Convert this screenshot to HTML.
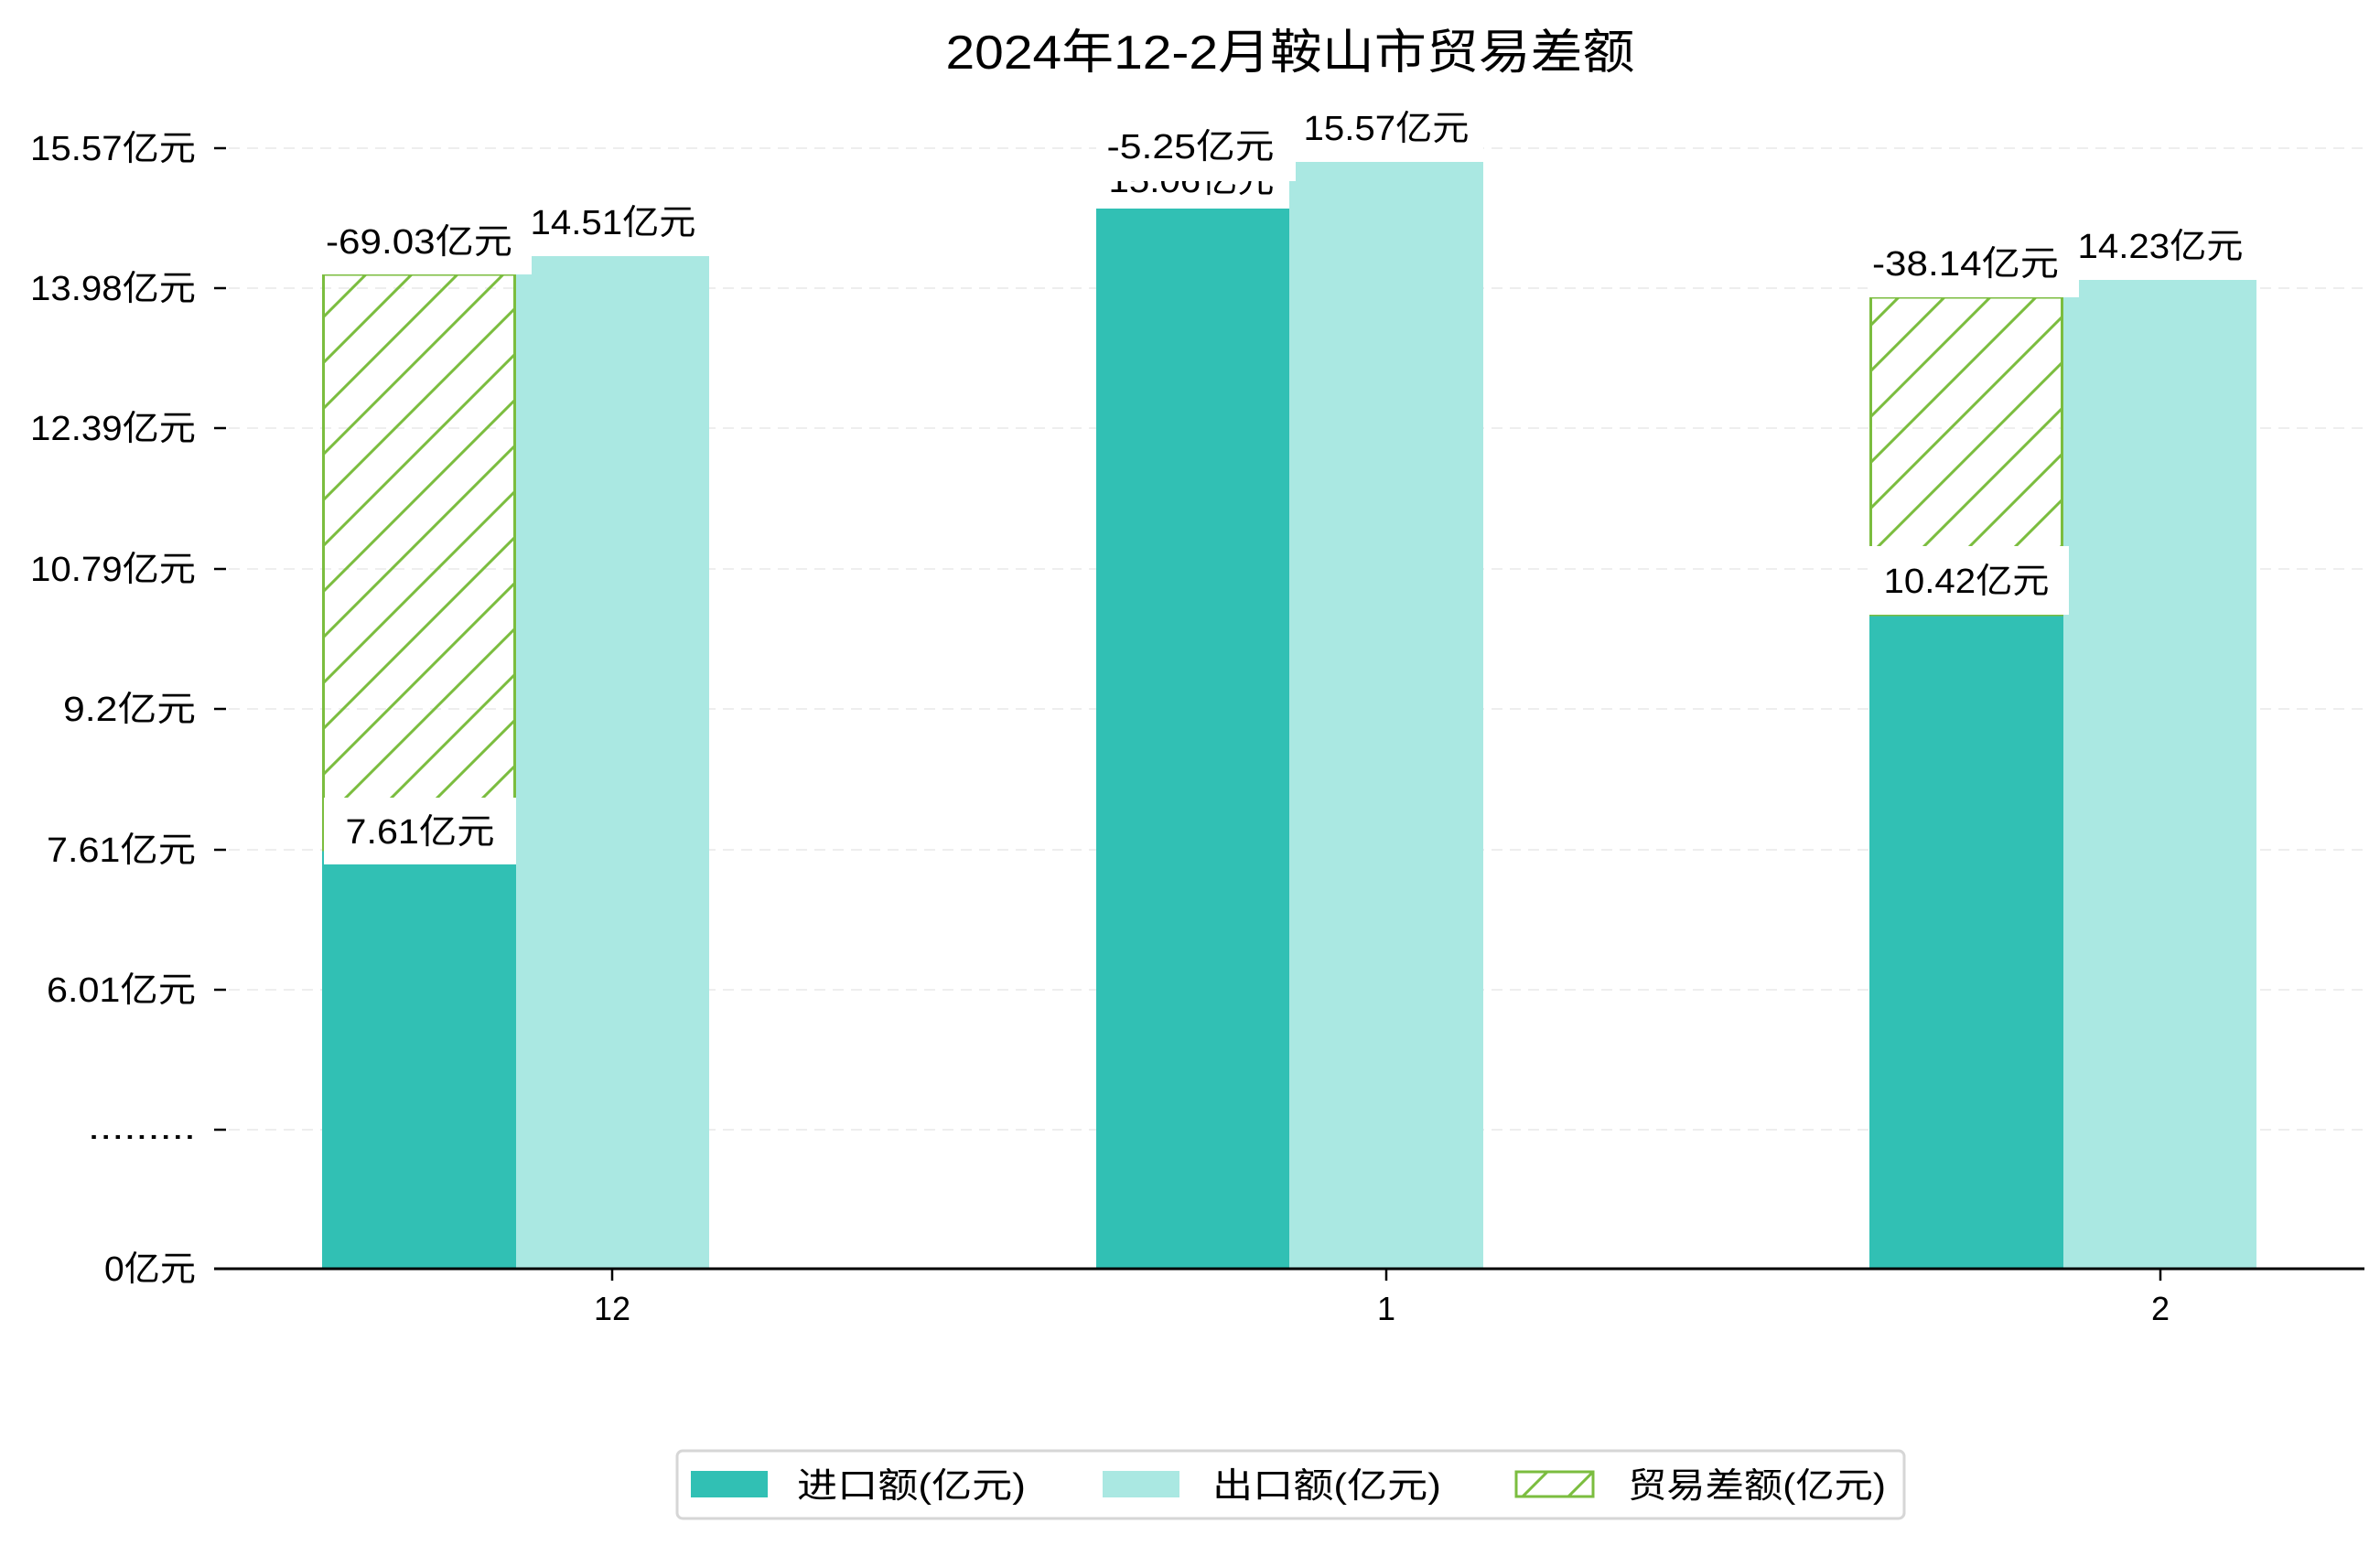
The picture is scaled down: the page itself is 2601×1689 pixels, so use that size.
<!DOCTYPE html>
<html><head><meta charset="utf-8"><style>
html,body{margin:0;padding:0;background:#fff;}
svg{display:block;}
text{font-family:"Liberation Sans","Noto Sans CJK SC",sans-serif;fill:#000;}
</style></head><body>
<svg width="2601" height="1689" viewBox="0 0 2601 1689" xmlns="http://www.w3.org/2000/svg">
<defs>
<pattern id="h" patternUnits="userSpaceOnUse" width="50" height="50">
<path d="M-5,5 L5,-5 M0,50 L50,0 M45,55 L55,45" stroke="#7bbd3f" stroke-width="3"/>
</pattern>
</defs>
<text x="1410" y="75" font-size="52" text-anchor="middle" textLength="753" lengthAdjust="spacingAndGlyphs">2024年12-2月鞍山市贸易差额</text>
<g stroke="#eeeeee" stroke-width="2" stroke-dasharray="12,8">
<line x1="250" x2="2584" y1="162" y2="162"/><line x1="250" x2="2584" y1="315" y2="315"/>
<line x1="250" x2="2584" y1="468" y2="468"/><line x1="250" x2="2584" y1="622" y2="622"/>
<line x1="250" x2="2584" y1="775" y2="775"/><line x1="250" x2="2584" y1="929" y2="929"/>
<line x1="250" x2="2584" y1="1082" y2="1082"/><line x1="250" x2="2584" y1="1235" y2="1235"/>
</g>
<g stroke="#000" stroke-width="2.5">
<line x1="234" x2="247" y1="162" y2="162"/><line x1="234" x2="247" y1="315" y2="315"/>
<line x1="234" x2="247" y1="468" y2="468"/><line x1="234" x2="247" y1="622" y2="622"/>
<line x1="234" x2="247" y1="775" y2="775"/><line x1="234" x2="247" y1="929" y2="929"/>
<line x1="234" x2="247" y1="1082" y2="1082"/><line x1="234" x2="247" y1="1235" y2="1235"/>
<line x1="234" x2="247" y1="1387" y2="1387"/>
</g>
<g font-size="38" text-anchor="end">
<text x="214" y="175" textLength="181" lengthAdjust="spacingAndGlyphs">15.57亿元</text>
<text x="214" y="328" textLength="181" lengthAdjust="spacingAndGlyphs">13.98亿元</text>
<text x="214" y="481" textLength="181" lengthAdjust="spacingAndGlyphs">12.39亿元</text>
<text x="214" y="635" textLength="181" lengthAdjust="spacingAndGlyphs">10.79亿元</text>
<text x="214" y="788" textLength="145" lengthAdjust="spacingAndGlyphs">9.2亿元</text>
<text x="214" y="942" textLength="163" lengthAdjust="spacingAndGlyphs">7.61亿元</text>
<text x="214" y="1095" textLength="163" lengthAdjust="spacingAndGlyphs">6.01亿元</text>
<text x="214" y="1245" textLength="118" lengthAdjust="spacingAndGlyphs">.........</text>
<text x="214" y="1400" textLength="100" lengthAdjust="spacingAndGlyphs">0亿元</text>
</g>
<rect x="352" y="929" width="212" height="458" fill="#31c0b4"/>
<rect x="564" y="280" width="211" height="1107" fill="#aae8e2"/>
<rect x="1198" y="228" width="211" height="1159" fill="#31c0b4"/>
<rect x="1409" y="177" width="212" height="1210" fill="#aae8e2"/>
<rect x="2043" y="672" width="212" height="715" fill="#31c0b4"/>
<rect x="2255" y="306" width="211" height="1081" fill="#aae8e2"/>
<rect x="353.5" y="300" width="209" height="629" fill="url(#h)" stroke="#7bbd3f" stroke-width="3"/>
<rect x="2044.5" y="325" width="209" height="347" fill="url(#h)" stroke="#7bbd3f" stroke-width="3"/>
<g font-size="38" text-anchor="middle">
<rect x="354" y="872" width="210" height="73" fill="#fff"/>
<text x="459" y="922" textLength="163" lengthAdjust="spacingAndGlyphs">7.61亿元</text>
<rect x="350" y="235" width="231" height="65" fill="#fff"/>
<text x="458" y="277" textLength="204" lengthAdjust="spacingAndGlyphs">-69.03亿元</text>
<rect x="570" y="215" width="205" height="62" fill="#fff"/>
<text x="670" y="256" textLength="181" lengthAdjust="spacingAndGlyphs">14.51亿元</text>
<rect x="1198" y="175" width="211" height="53" fill="#fff"/>
<text x="1302" y="210" textLength="181" lengthAdjust="spacingAndGlyphs">15.06亿元</text>
<rect x="1198" y="130" width="218" height="68" fill="#fff"/>
<text x="1301" y="173" textLength="183" lengthAdjust="spacingAndGlyphs">-5.25亿元</text>
<rect x="1415" y="112" width="206" height="60" fill="#fff"/>
<text x="1515" y="153" textLength="181" lengthAdjust="spacingAndGlyphs">15.57亿元</text>
<rect x="2041" y="597" width="220" height="75" fill="#fff"/>
<text x="2149" y="648" textLength="181" lengthAdjust="spacingAndGlyphs">10.42亿元</text>
<rect x="2041" y="260" width="231" height="65" fill="#fff"/>
<text x="2148" y="301" textLength="204" lengthAdjust="spacingAndGlyphs">-38.14亿元</text>
<rect x="2268" y="240" width="198" height="62" fill="#fff"/>
<text x="2361" y="282" textLength="181" lengthAdjust="spacingAndGlyphs">14.23亿元</text>
</g>
<line x1="234" x2="2584" y1="1387" y2="1387" stroke="#000" stroke-width="3"/>
<g stroke="#000" stroke-width="2.5">
<line x1="669" x2="669" y1="1387" y2="1400"/>
<line x1="1515" x2="1515" y1="1387" y2="1400"/>
<line x1="2361" x2="2361" y1="1387" y2="1400"/>
</g>
<g font-size="36" text-anchor="middle">
<text x="669" y="1443">12</text><text x="1515" y="1443">1</text><text x="2361" y="1443">2</text>
</g>
<rect x="740" y="1586" width="1341" height="74" rx="6" fill="#fff" stroke="#d6d6d6" stroke-width="3"/>
<rect x="755" y="1608" width="84" height="29" fill="#31c0b4"/>
<rect x="1205" y="1608" width="84" height="29" fill="#aae8e2"/>
<rect x="1657" y="1609" width="84" height="27" fill="url(#h)" stroke="#7bbd3f" stroke-width="3"/>
<g font-size="38">
<text x="871" y="1637" textLength="250" lengthAdjust="spacingAndGlyphs">进口额(亿元)</text>
<text x="1325" y="1637" textLength="250" lengthAdjust="spacingAndGlyphs">出口额(亿元)</text>
<text x="1779" y="1637" textLength="282" lengthAdjust="spacingAndGlyphs">贸易差额(亿元)</text>
</g>
</svg>
</body></html>
